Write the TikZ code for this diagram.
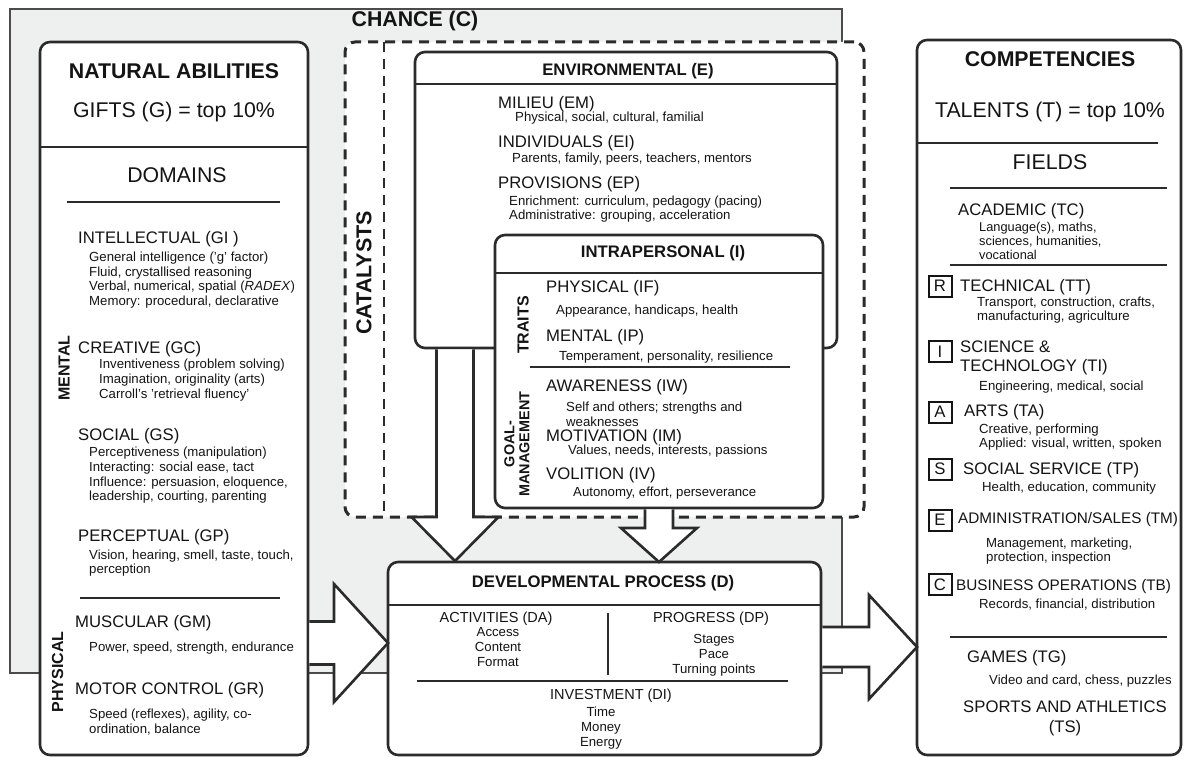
\documentclass[tikz,border=0pt]{standalone}
\usepackage{fontspec}
\setmainfont{Liberation Sans}
\usetikzlibrary{calc}
\definecolor{ink}{HTML}{2B2B2B}
\definecolor{chancefill}{HTML}{EEEFEF}
\definecolor{txt}{HTML}{141414}
\newcommand{\harrow}[5]{%
  \fill[white] ($(#1)+(0,-#3)$) -- ($(#2)+(-#5,-#3)$) -- ($(#2)+(-#5,-#4)$) -- (#2) -- ($(#2)+(-#5,#4)$) -- ($(#2)+(-#5,#3)$) -- ($(#1)+(0,#3)$) -- cycle;
  \draw[blockarrow] ($(#1)+(0,-#3)$) -- ($(#2)+(-#5,-#3)$) -- ($(#2)+(-#5,-#4)$) -- (#2) -- ($(#2)+(-#5,#4)$) -- ($(#2)+(-#5,#3)$) -- ($(#1)+(0,#3)$);}
\newcommand{\varrow}[5]{%
  \fill[white] ($(#1)+(-#3,0)$) -- ($(#2)+(-#3,-#5)$) -- ($(#2)+(-#4,-#5)$) -- (#2) -- ($(#2)+(#4,-#5)$) -- ($(#2)+(#3,-#5)$) -- ($(#1)+(#3,0)$) -- cycle;
  \draw[blockarrow] ($(#1)+(-#3,0)$) -- ($(#2)+(-#3,-#5)$) -- ($(#2)+(-#4,-#5)$) -- (#2) -- ($(#2)+(#4,-#5)$) -- ($(#2)+(#3,-#5)$) -- ($(#1)+(#3,0)$);}
\tikzset{
  panel/.style={draw=ink, line width=2.6pt, rounded corners=10pt, fill=white, inner sep=0pt},
  blockarrow/.style={draw=ink, line width=2.6pt, line join=miter},
  divider/.style={draw=ink, line width=2pt},
  hd/.style={anchor=west, inner sep=0pt, text=txt, font=\fontsize{16.7}{18}\selectfont},
  hdc/.style={anchor=center, inner sep=0pt, text=txt, align=center, font=\fontsize{16.7}{20}\selectfont},
  sb/.style={anchor=west, inner sep=0pt, text=txt, align=left, font=\fontsize{13.2}{14.8}\selectfont},
  big/.style={anchor=center, inner sep=0pt, text=txt, font=\fontsize{21.3}{24}\selectfont},
  bigb/.style={anchor=center, inner sep=0pt, text=txt, font=\fontsize{21.3}{24}\selectfont\bfseries},
  ttl/.style={anchor=center, inner sep=0pt, text=txt, font=\fontsize{16.7}{18}\selectfont\bfseries},
  vlab/.style={anchor=center, inner sep=0pt, text=txt, rotate=90, font=\fontsize{16}{16}\selectfont\bfseries},
  dh/.style={anchor=center, inner sep=0pt, text=txt, font=\fontsize{14.5}{16}\selectfont},
  ds/.style={anchor=center, inner sep=0pt, text=txt, align=center, font=\fontsize{13.2}{15}\selectfont},
  lbox/.style={draw=txt, line width=2pt, minimum width=23pt, minimum height=21pt, inner sep=0pt, text=txt, font=\fontsize{16.7}{17}\selectfont},
}
\begin{document}
\begin{tikzpicture}[x=1pt,y=-1pt]
\useasboundingbox (0,0) rectangle (1186,757);
\fill[white] (0,0) rectangle (1186,757);

% CHANCE background
\node[draw=ink!85, line width=1.5pt, fill=chancefill, minimum width=832pt, minimum height=664pt, inner sep=0pt] (chance) at (426,341) {};
\node[bigb] (chancet) at (415,21) {CHANCE (C)};

% CATALYSTS dashed box
\node[draw=ink, line width=3pt, dash pattern=on 10pt off 7pt, rounded corners=10pt, fill=white, minimum width=519pt, minimum height=475pt, inner sep=0pt] (cat) at (604.5,279.5) {};
\coordinate (cattop) at (384,42);
\coordinate (catbot) at (384,517);
\draw[ink, line width=2.4pt, dash pattern=on 10pt off 7pt] (cattop) -- (catbot);
\node[vlab, font=\fontsize{21.5}{22}\selectfont\bfseries] (catt) at (364,273) {CATALYSTS};

% ENVIRONMENTAL
\node[panel, minimum width=422pt, minimum height=296pt] (env) at (626,200) {};
\draw[divider] (415,84) -- (837,84);
\node[ttl] (envt) at (628,71) {ENVIRONMENTAL (E)};
\node[hd] (em) at (498,104) {MILIEU (EM)};
\node[sb] (ems) at (515,118) {Physical, social, cultural, familial};
\node[hd] (ei) at (498,143) {INDIVIDUALS (EI)};
\node[sb] (eis) at (512,159) {Parents, family, peers, teachers, mentors};
\node[hd] (ep) at (498,184) {PROVISIONS (EP)};
\node[sb, font=\fontsize{13.2}{14.2}\selectfont] (eps) at (509,209) {Enrichment: curriculum, pedagogy (pacing)\\Administrative: grouping, acceleration};

% INTRAPERSONAL
\node[panel, minimum width=328pt, minimum height=273pt] (intra) at (659,371.5) {};
\draw[divider] (495,273) -- (823,273);
\draw[divider] (530,367) -- (790,367);
\node[ttl] (intt) at (663,253) {INTRAPERSONAL (I)};
\node[hd] (if) at (546,288) {PHYSICAL (IF)};
\node[sb] (ifs) at (556,311) {Appearance, handicaps, health};
\node[hd] (ip) at (546,337) {MENTAL (IP)};
\node[sb] (ips) at (559,357) {Temperament, personality, resilience};
\node[hd] (iw) at (546,387) {AWARENESS (IW)};
\node[sb, font=\fontsize{13.2}{14.6}\selectfont] (iws) at (566,414.5) {Self and others; strengths and\\weaknesses};
\node[hd] (im) at (546,437) {MOTIVATION (IM)};
\node[sb] (ims) at (568,451) {Values, needs, interests, passions};
\node[hd] (iv) at (546,475) {VOLITION (IV)};
\node[sb] (ivs) at (573,493) {Autonomy, effort, perseverance};
\node[vlab] (traits) at (523,325) {TRAITS};
\node[vlab, align=center, font=\fontsize{14.4}{15}\selectfont\bfseries] (goal) at (517,444) {GOAL-\\MANAGEMENT};

% NATURAL ABILITIES
\node[panel, minimum width=268pt, minimum height=713pt] (nat) at (174,398.5) {};
\draw[ink, line width=2.6pt] (40,147) -- (308,147);
\draw[divider] (67,202) -- (280,202);
\draw[divider] (80,598) -- (280,598);
\node[bigb] (natt) at (174,71) {NATURAL ABILITIES};
\node[big] (gifts) at (174,112) {GIFTS (G) = top 10\%};
\node[big] (dom) at (177,175) {DOMAINS};
\node[hd] (gi) at (78,239) {INTELLECTUAL (GI )};
\node[sb] (gis) at (89,280) {General intelligence ('g' factor)\\Fluid, crystallised reasoning\\Verbal, numerical, spatial (\textit{RADEX})\\Memory: procedural, declarative};
\node[hd] (gc) at (78,349) {CREATIVE (GC)};
\node[sb, font=\fontsize{13.2}{14.6}\selectfont] (gcs) at (99,380) {Inventiveness (problem solving)\\Imagination, originality (arts)\\Carroll's 'retrieval fluency'};
\node[vlab] (mental) at (64,368) {MENTAL};
\node[hd] (gs) at (78,436) {SOCIAL (GS)};
\node[sb, font=\fontsize{13.2}{14.7}\selectfont] (gss) at (89,475.5) {Perceptiveness (manipulation)\\Interacting: social ease, tact\\Influence: persuasion, eloquence,\\leadership, courting, parenting};
\node[hd] (gp) at (78,537) {PERCEPTUAL (GP)};
\node[sb] (gps) at (89,563) {Vision, hearing, smell, taste, touch,\\perception};
\node[hd] (gm) at (75,623) {MUSCULAR (GM)};
\node[sb] (gms) at (89,648) {Power, speed, strength, endurance};
\node[hd] (gr) at (75,690) {MOTOR CONTROL (GR)};
\node[sb] (grs) at (89,722) {Speed (reflexes), agility, co-\\ordination, balance};
\node[vlab] (phys) at (57.5,672) {PHYSICAL};

% COMPETENCIES
\node[panel, minimum width=264pt, minimum height=715pt] (comp) at (1049,397.5) {};
\draw[divider] (917,143) -- (1158,143);
\draw[divider] (950,188) -- (1167,188);
\draw[divider] (950,265) -- (1167,265);
\draw[divider] (950,637) -- (1167,637);
\node[bigb] (compt) at (1050,59) {COMPETENCIES};
\node[big] (tal) at (1050,112) {TALENTS (T) = top 10\%};
\node[big] (fld) at (1050,162) {FIELDS};
\node[hd] (tc) at (958,211) {ACADEMIC (TC)};
\node[sb, font=\fontsize{12.8}{14}\selectfont] (tcs) at (979,241) {Language(s), maths,\\sciences, humanities,\\vocational};
\node[lbox] (lr) at (940,286) {R};
\node[hd] (tt) at (960,287) {TECHNICAL (TT)};
\node[sb, font=\fontsize{13.2}{14}\selectfont] (tts) at (977,310) {Transport, construction, crafts,\\manufacturing, agriculture};
\node[lbox] (li) at (940,351.5) {I};
\node[hd, align=left, font=\fontsize{16.7}{19}\selectfont] (ti) at (960,357.5) {SCIENCE \&\\TECHNOLOGY (TI)};
\node[sb] (tis) at (979,387) {Engineering, medical, social};
\node[lbox] (la) at (940,412) {A};
\node[hd] (ta) at (964,412) {ARTS (TA)};
\node[sb, font=\fontsize{13.2}{14}\selectfont] (tas) at (979,437) {Creative, performing\\Applied: visual, written, spoken};
\node[lbox] (ls) at (940,469) {S};
\node[hd] (tp) at (963,470) {SOCIAL SERVICE (TP)};
\node[sb] (tps) at (982,488) {Health, education, community};
\node[lbox] (le) at (940,520) {E};
\node[hd, font=\fontsize{15.3}{17}\selectfont] (tm) at (958,520) {ADMINISTRATION/SALES (TM)};
\node[sb, font=\fontsize{13.2}{14}\selectfont] (tms) at (986,551) {Management, marketing,\\protection, inspection};
\node[lbox] (lc) at (940,584.5) {C};
\node[hd, font=\fontsize{15.3}{17}\selectfont] (tb) at (956,587) {BUSINESS OPERATIONS (TB)};
\node[sb] (tbs) at (979,605) {Records, financial, distribution};
\node[hd] (tg) at (967,658) {GAMES (TG)};
\node[sb] (tgs) at (989,681) {Video and card, chess, puzzles};
\node[hdc] (ts) at (1065,718) {SPORTS AND ATHLETICS\\(TS)};

% DEVELOPMENTAL PROCESS
\node[panel, minimum width=433pt, minimum height=193pt] (dev) at (604.5,658.5) {};
\draw[divider] (388,605) -- (821,605);
\draw[divider] (608,613) -- (608,675);
\draw[divider] (417,681) -- (788,681);
\node[ttl] (devt) at (603,583) {DEVELOPMENTAL PROCESS (D)};
\node[dh] (da) at (496,619) {ACTIVITIES (DA)};
\node[ds] (das) at (498,647) {Access\\Content\\Format};
\node[dh] (dp) at (711,619) {PROGRESS (DP)};
\node[ds] (dps) at (714,655) {Stages\\Pace\\Turning points};
\node[dh] (di) at (611,696) {INVESTMENT (DI)};
\node[ds] (dis) at (601,728) {Time\\Money\\Energy};

% Block arrows
\coordinate (aLs) at (309.3,643);
\coordinate (aLe) at (388,643);
\harrow{aLs}{aLe}{21.5}{59}{54}
\coordinate (aRs) at (822.3,647);
\coordinate (aRe) at (917,647);
\harrow{aRs}{aRe}{20}{52}{48}
\coordinate (aD1s) at (455,349.3);
\coordinate (aD1e) at (455,561);
\varrow{aD1s}{aD1e}{18.5}{43.5}{44}
\coordinate (aD2s) at (659,509.3);
\coordinate (aD2e) at (659,562);
\varrow{aD2s}{aD2e}{14}{38}{34}
\end{tikzpicture}
\end{document}
